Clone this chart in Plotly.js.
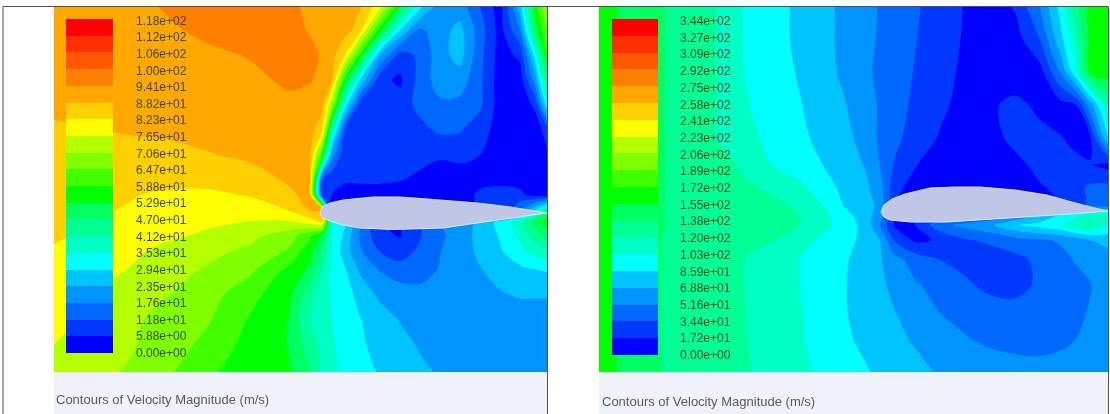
<!DOCTYPE html>
<html><head><meta charset="utf-8">
<script src="https://cdn.plot.ly/plotly-3.0.1.min.js"></script>
<style>html,body{margin:0;padding:0;background:#fff}#c{width:1110px;height:414px;filter:blur(0.55px)}</style>
</head><body><div id="c"></div>
<script>
const bandColors=['#0000ff','#0038ff','#0068ff','#0094ff','#00c4ff','#00ffff','#00ffc4','#00ff94','#00ff60','#00ff00','#40ff00','#80ff00','#b4ff00','#ffff00','#ffd000','#ffa800','#ff8000','#ff5800','#ff3000','#ff0000'];
const leftLabels=['1.18e+02','1.12e+02','1.06e+02','1.00e+02','9.41e+01','8.82e+01','8.23e+01','7.65e+01','7.06e+01','6.47e+01','5.88e+01','5.29e+01','4.70e+01','4.12e+01','3.53e+01','2.94e+01','2.35e+01','1.76e+01','1.18e+01','5.88e+00','0.00e+00'];
const rightLabels=['3.44e+02','3.27e+02','3.09e+02','2.92e+02','2.75e+02','2.58e+02','2.41e+02','2.23e+02','2.06e+02','1.89e+02','1.72e+02','1.55e+02','1.38e+02','1.20e+02','1.03e+02','8.59e+01','6.88e+01','5.16e+01','3.44e+01','1.72e+01','0.00e+00'];
const caption='Contours of Velocity Magnitude (m/s)';

const leftX=[54,90,130,170,210,250,290,310,322,332,345,360,380,400,420,440,460,480,500,520,535,547];
const leftY=[7,30,55,80,105,130,155,180,195,210,222,235,250,270,295,320,345,372];
const leftZ=[
[15.4,15.4,15.5,16.2,16.5,16.5,16.2,15.8,15.6,15.5,15.5,15.1,13.3,9.0,5.2,3.5,3.5,2.0,0.5,4.5,9.5,12],
[15.4,15.4,15.5,15.8,16.4,16.5,16.4,15.9,15.6,15.5,15.4,14.5,9.5,5,2.8,3.6,4.3,2.5,0.6,3,8.5,11],
[15.4,15.4,15.4,15.5,15.7,16.1,16.5,16.3,15.9,15.4,14.0,9.8,4,1.6,2.2,3.6,4.4,2.3,0.6,1.2,5.5,10],
[15.4,15.4,15.4,15.4,15.5,15.6,16.3,16.1,15.6,15.1,9.5,5,1.3,0.8,2.4,3.5,3.5,2.2,0.5,0.5,3.5,8],
[15.3,15.3,15.3,15.4,15.4,15.4,15.6,15.4,15.3,12,5.5,1.5,1.2,1.5,2.3,2.8,2.7,2.2,0.5,0.4,1.2,5.5],
[14.8,14.95,15.1,15.2,15.4,15.4,15.4,15.3,14.5,7,1.8,1.3,1.2,1.3,1.7,2.2,2.1,1.4,0.6,0.4,0.4,1.5],
[14.7,14.6,14.6,14.7,14.95,15.2,15.4,15.3,10,3.5,1.2,1.2,1.2,1.2,1.3,1.1,1.2,1.0,0.6,0.5,0.4,0.8],
[14.4,14.4,14.3,14.25,14.25,14.55,15.15,15,2,1.1,1.1,1.1,1.1,1.05,0.8,0.6,0.6,0.7,0.8,0.7,0.5,0.5],
[14.3,14.2,14.05,13.85,13.85,14.05,14.85,15.3,1.5,1,0.7,0.7,0.7,0.5,0.5,0.4,0.5,1.2,1.3,1.2,0.7,0.6],
[14.2,14.1,13.95,13.5,13.4,13.6,14.05,15.1,15,1,1,1,1,1,1,1,1,1,1,3,5,8],
[14.1,14.05,13.9,13.5,13.2,12.95,12.9,13.5,14,6,5,3,1,1,2,3,3.3,4.3,5.3,6.5,8.5,9.5],
[14.15,13.85,13.6,13.2,12.8,12.35,11.5,10.3,9,6,4.8,2.9,1.3,0.9,1.9,2.8,3.5,4.3,5.1,6.2,7.5,8.5],
[13.9,13.6,13.25,12.7,12.3,11.8,10.9,9.4,7.9,5.9,4.5,3.1,1.9,1.4,2.2,2.95,3.6,4.2,4.9,5.8,6.5,7],
[13.7,13.35,12.95,12.4,11.85,11.2,9.7,8.8,7,5.8,5.1,3.85,2.95,2.5,2.5,3.1,3.5,3.95,4.35,4.75,4.95,5.1],
[13.55,13.1,12.55,12,11.35,10.35,9.2,7.3,6.5,5.9,5.4,4.7,3.8,3.5,3.4,3.4,3.5,3.6,3.9,4.1,4.1,4.1],
[13.35,12.8,12.2,11.6,11.05,9.9,8.95,6.9,6.4,6,5.5,5.05,4.5,3.95,3.6,3.4,3.4,3.4,3.4,3.4,3.4,3.4],
[13,12.6,12.1,11.5,10.65,9.65,8.95,7.5,6.6,6.1,5.7,5.15,4.7,4.35,3.9,3.4,3.4,3.4,3.4,3.4,3.4,3.4],
[12.6,12.3,11.9,11.1,10.1,9.6,9.05,8,6.8,6.2,5.8,5.35,4.9,4.5,4.2,3.9,3.5,3.4,3.4,3.4,3.4,3.4]
];
const rightX=[599,630,670,710,745,775,800,825,845,865,880,895,915,940,965,990,1015,1040,1060,1075,1090,1108];
const rightY=[7,40,72,105,138,165,188,205,215,225,240,260,285,310,340,372];
const rightZ=[
[9.4,8.7,7.9,7.2,5.9,5.3,4.8,4.2,3.8,3.3,2.95,2.6,2.15,1.5,0.95,0.5,1.1,3,5.3,7.5,9.5,9.6],
[9.4,8.7,7.9,7.2,5.9,5.3,4.8,4.25,3.75,3.25,2.9,2.5,2.05,1.45,0.9,0.5,0.5,2,4.6,6.5,9.3,9.6],
[9.4,8.7,7.9,7.2,5.95,5.4,4.9,4.3,3.8,3.2,2.8,2.45,1.95,1.35,0.8,0.4,0.4,0.6,3,5.6,9.2,9.6],
[9.4,8.7,7.9,7.2,6.1,5.5,5.05,4.5,4.05,3.4,2.9,2.4,1.8,1.25,0.6,0.85,1.25,0.8,0.6,0.9,3.5,7],
[9.4,8.7,7.9,7.2,6.3,5.7,5.2,4.7,4.3,3.6,2.85,2.2,1.65,0.9,0.7,0.8,1.15,1.25,1.05,0.8,0.8,5],
[9.4,8.7,7.9,7.3,6.9,5.9,5.45,4.95,4.5,3.95,3,1.9,1.05,0.6,0.5,0.6,0.85,1.15,1.25,1.2,1.05,0.7],
[9.4,8.7,7.9,7.3,7.1,6.9,6.25,5.35,4.75,4.25,3.4,1.3,0.6,0.5,0.5,0.5,0.6,0.95,1.1,1.6,2.2,2.3],
[9.4,8.7,7.9,7.4,7.2,7.1,6.9,5.9,4.9,4.3,3.8,1,1,0.5,0.5,0.5,0.5,0.8,1,1.5,2.2,2.3],
[9.4,8.7,7.9,7.4,7.2,7.1,7,6.2,5.3,4.5,3.5,1.2,1,1.2,1.5,2,3,4,5,5.5,6.5,6.5],
[9.4,8.7,7.9,7.4,7.2,7.1,7,6.3,5.5,4.7,3,0.8,1,2.7,3.3,3.8,4.9,5.4,5.9,6.7,7.2,6],
[9.4,8.7,7.8,7.2,7.1,7,6.4,5.75,5.3,4.75,4,1.85,0.8,1.1,1.9,2.2,2.6,2.9,3.1,3.5,4,4.3],
[9.4,8.7,7.8,7.2,7,6.45,6,5.5,5.1,4.6,4.1,3.35,2.6,2,1.65,1.45,1.7,2.25,2.7,3.05,3.4,3.6],
[9.4,8.7,7.8,7.3,7,6.5,6,5.5,5.05,4.55,4.15,3.8,3.1,2.7,2.2,1.7,1.6,2.2,2.5,2.7,2.95,3.4],
[9.4,8.7,7.8,7.3,7,6.5,6.05,5.5,5.05,4.65,4.35,4,3.5,2.95,2.6,2.45,2.35,2.4,2.6,2.8,3.05,3.3],
[9.4,8.7,7.8,7.3,7.05,6.55,6.1,5.6,5.15,4.8,4.5,4.25,3.9,3.5,3.1,2.8,2.6,2.6,2.8,3,3.2,3.4],
[9.4,8.7,7.8,7.4,7.1,6.6,6.2,5.8,5.4,5.1,4.8,4.6,4.3,3.9,3.7,3.6,3.5,3.4,3.4,3.4,3.4,3.4]
];
const leftFoilX=[320,322,330,343,373,400,427,477,510,543,547,543,510,477,443,393,360,343,330,323,320];
const leftFoilY=[214,207,203,200,197,197,199,203,207,212,213,213.5,218,223,228,229.5,228,225,221,218,214];
const rightFoilX=[881,884,892,905,930,955,980,1015,1047,1075,1103,1108,1070,1003,947,910,890,884,881];
const rightFoilY=[212,205,199,194,188,187,187,190,195,203,210,211,214,218,222,222,220,217,212];

const scale=[];bandColors.forEach((c,i)=>{scale.push([i/20,c]);scale.push([(i+1)/20,c]);});
const bandZ=bandColors.map((c,i)=>[i+0.5]).reverse();
const bandEdges=h=>bandColors.concat(['']).map((c,i)=>h[0]+(h[1]-h[0])*i/20);

function field(x,y,z){return {type:'contour',x,y,z,zmin:0,zmax:20,autocontour:false,autocolorscale:false,
  contours:{start:0,end:20,size:1,coloring:'fill',showlines:false},line:{width:0,smoothing:1},
  colorscale:scale,showscale:false,hoverinfo:'skip',connectgaps:true};}
function foil(x,y){return {type:'scatter',mode:'lines',x,y,fill:'toself',fillcolor:'#bfc6e6',line:{color:'#e4e8f6',width:1},hoverinfo:'skip',showlegend:false};}
function bar(x,h){return {type:'heatmap',x,y:bandEdges(h),z:bandZ,zmin:0,zmax:20,colorscale:scale,showscale:false,hoverinfo:'skip',zsmooth:false,xaxis:'x2',yaxis:'y2'};}

const traces=[field(leftX,leftY,leftZ),field(rightX,rightY,rightZ),foil(leftFoilX,leftFoilY),foil(rightFoilX,rightFoilY),bar([66,113],[19,353]),bar([612,658],[19,355])];

const textFont='Liberation Sans, Arial, sans-serif';
const annotations=[];
function labels(arr,x,y0,y1){arr.forEach((t,i)=>annotations.push({x,y:y0+(y1-y0)*i/20,text:t,showarrow:false,xanchor:'left',yanchor:'middle',font:{family:textFont,size:12,color:'#3a4a20'}}));}
labels(leftLabels,133.5,20.7,353);
labels(rightLabels,677.5,21,355);
annotations.push({x:54,y:399,text:caption,showarrow:false,xanchor:'left',yanchor:'middle',font:{family:textFont,size:13,color:'#5a5a60'}});
annotations.push({x:600,y:401,text:caption,showarrow:false,xanchor:'left',yanchor:'middle',font:{family:textFont,size:13,color:'#5a5a60'}});

const line={color:'#50505a',width:1};
const shapes=[
 {type:'rect',x0:54,x1:547,y0:372.5,y1:414,fillcolor:'#eff2fa',line:{width:0},layer:'below'},
 {type:'rect',x0:599,x1:1108,y0:372.5,y1:414,fillcolor:'#eff2fa',line:{width:0},layer:'below'},
 {type:'line',x0:3,x1:1108,y0:6.5,y1:6.5,line},
 {type:'line',x0:3,x1:3,y0:6.5,y1:414,line},
 {type:'line',x0:547.5,x1:547.5,y0:6.5,y1:414,line},
 {type:'line',x0:1108.5,x1:1108.5,y0:6.5,y1:414,line}
];
Plotly.newPlot('c',traces,{width:1110,height:414,margin:{l:0,r:0,t:0,b:0},paper_bgcolor:'#fff',plot_bgcolor:'rgba(0,0,0,0)',showlegend:false,
 xaxis:{range:[0,1110],visible:false,fixedrange:true},yaxis:{range:[414,0],visible:false,fixedrange:true},
 xaxis2:{range:[0,1110],visible:false,fixedrange:true,overlaying:'x'},yaxis2:{range:[414,0],visible:false,fixedrange:true,overlaying:'y'},
 annotations,shapes},{staticPlot:true,displayModeBar:false});
</script></body></html>
